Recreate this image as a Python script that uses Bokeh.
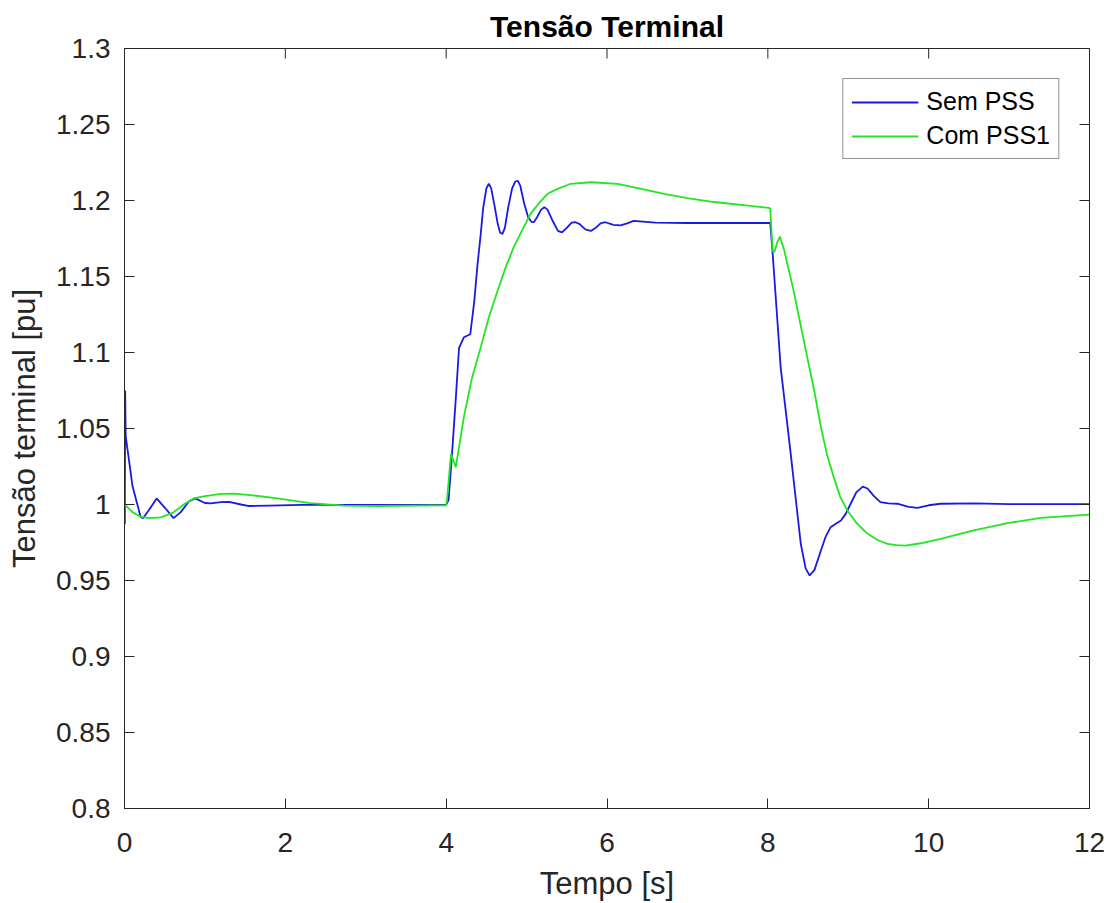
import math
from bokeh.plotting import figure
from bokeh.models import FixedTicker, Range1d, Legend, LegendItem
from bokeh.embed import file_html
from bokeh.resources import INLINE

# ---- data ----
t_sem = [0, 0.004, 0.008, 0.015, 0.1, 0.2, 0.23, 0.3, 0.4, 0.5, 0.61, 0.7, 0.8, 0.88, 1.0, 1.07,
         1.2, 1.3, 1.45, 1.55, 1.8, 2.2, 3.0, 4.0,
         4.03, 4.07, 4.12, 4.16, 4.22, 4.3, 4.35, 4.39, 4.43, 4.46, 4.5, 4.53, 4.56, 4.6, 4.64,
         4.67, 4.70, 4.73, 4.77, 4.82, 4.86, 4.89, 4.92, 4.97, 5.02, 5.06, 5.09, 5.13, 5.18, 5.22,
         5.26, 5.33, 5.39, 5.44, 5.5, 5.56, 5.61, 5.66, 5.73, 5.80, 5.86, 5.92, 5.98, 6.08,
         6.17, 6.25, 6.33, 6.6, 7.0, 7.5, 8.03,
         8.06, 8.16, 8.28, 8.41, 8.47, 8.52, 8.58, 8.66, 8.72, 8.78, 8.85, 8.91, 8.97, 9.03, 9.1,
         9.18, 9.24, 9.32, 9.4, 9.5, 9.61, 9.75, 9.86, 10.0, 10.15, 10.57, 11.0, 12.0]
v_sem = [1.0, 0.987, 1.075, 1.045, 1.012, 0.992, 0.991, 0.996, 1.004, 0.998, 0.991, 0.995, 1.002,
         1.004, 1.001, 1.0007, 1.0015, 1.0017, 1.0, 0.999, 0.9993, 0.9997, 0.9997, 0.9997,
         1.003, 1.031, 1.07, 1.103, 1.110, 1.112, 1.134, 1.158, 1.178, 1.195, 1.208, 1.211, 1.208,
         1.197, 1.185, 1.179, 1.178, 1.182, 1.195, 1.208, 1.2125, 1.213, 1.21, 1.198, 1.189,
         1.186, 1.1857, 1.189, 1.194, 1.1956, 1.194, 1.186, 1.18, 1.179, 1.182, 1.1855, 1.1857,
         1.1845, 1.181, 1.180, 1.182, 1.185, 1.1857, 1.184, 1.1836, 1.185, 1.1866, 1.1855, 1.1852,
         1.1852, 1.1852,
         1.165, 1.09, 1.0355, 0.974, 0.958, 0.9533, 0.957, 0.9697, 0.979, 0.985, 0.9875, 0.9895,
         0.994, 1.0005, 1.008, 1.0118, 1.0105, 1.0055, 1.0016, 1.0008, 1.0005, 0.9985, 0.9978,
         0.9995, 1.0005, 1.0008, 1.0003, 1.0003]

t_com = [0, 0.1, 0.2, 0.3, 0.45, 0.6, 0.75, 0.86, 1.0, 1.2, 1.36, 1.6, 1.9, 2.31, 2.73, 3.14,
         3.6, 4.0,
         4.01, 4.06, 4.12, 4.22, 4.32, 4.43, 4.53, 4.64, 4.74, 4.84, 4.95, 5.05, 5.15, 5.26, 5.4,
         5.55, 5.8, 6.13, 6.4, 6.71, 7.0, 7.33, 7.7, 8.01,
         8.03, 8.06, 8.08, 8.12, 8.15, 8.2, 8.32, 8.4, 8.49, 8.58, 8.66, 8.74, 8.82, 8.9, 8.99,
         9.1, 9.24, 9.37, 9.49, 9.6, 9.71, 9.9, 10.15, 10.56, 10.98, 11.39, 12.0]
v_com = [1.0, 0.995, 0.992, 0.991, 0.9915, 0.9945, 1.0005, 1.004, 1.0055, 1.007, 1.0072, 1.006,
         1.004, 1.0009, 0.9993, 0.999, 0.9993, 0.9995,
         1.0026, 1.0334, 1.0246, 1.0575, 1.083, 1.1035, 1.123, 1.1408, 1.156, 1.1693, 1.181,
         1.1912, 1.198, 1.2044, 1.208, 1.211, 1.212, 1.211, 1.208, 1.2044, 1.2015, 1.199, 1.197,
         1.1952,
         1.1945, 1.167, 1.166, 1.173, 1.1763, 1.168, 1.1408, 1.12, 1.097, 1.074, 1.051, 1.032,
         1.018, 1.005, 0.996, 0.988, 0.9807, 0.9765, 0.9741, 0.9733, 0.973, 0.9745, 0.9774,
         0.9829, 0.9877, 0.9912, 0.9934]

x_ticks = [0, 2, 4, 6, 8, 10, 12]
y_ticks = [0.8, 0.85, 0.9, 0.95, 1.0, 1.05, 1.1, 1.15, 1.2, 1.25, 1.3]
y_tick_labels = ["0.8", "0.85", "0.9", "0.95", "1", "1.05", "1.1", "1.15", "1.2", "1.25", "1.3"]
series_names = ["Sem PSS", "Com PSS1"]

FONT = "Liberation Sans"
AX = "#262626"

p = figure(width=1115, height=903, output_backend="svg", toolbar_location=None,
           x_range=Range1d(x_ticks[0], x_ticks[-1]), y_range=Range1d(y_ticks[0], y_ticks[-1]),
           min_border_left=124, min_border_right=26, min_border_top=48, min_border_bottom=95,
           title="Tensão Terminal")
p.title.align = "center"
p.title.text_font = FONT
p.title.text_font_size = "30px"
p.title.text_font_style = "bold"
p.title.text_color = "#000000"
p.title.standoff = 12

p.outline_line_color = AX
p.outline_line_width = 1
p.xgrid.visible = False
p.ygrid.visible = False
p.background_fill_color = "white"
p.border_fill_color = "white"

r1 = p.line(t_sem, v_sem, line_color="#1a1ae6", line_width=1.8)
r2 = p.line(t_com, v_com, line_color="#22e622", line_width=1.8)

# inward tick marks on the top and right edges of the box (half of each dash is clipped)
p.scatter(x=x_ticks, y=[y_ticks[-1]] * len(x_ticks), marker="dash", size=20,
          angle=math.pi / 2, line_color=AX, line_width=1)
p.scatter(x=[x_ticks[-1]] * len(y_ticks), y=y_ticks, marker="dash", size=20,
          line_color=AX, line_width=1)

def style_axis(ax, ticks):
    ax.ticker = FixedTicker(ticks=ticks)
    ax.minor_tick_line_color = None
    ax.major_tick_in = 10
    ax.major_tick_out = 0
    ax.major_tick_line_color = AX
    ax.axis_line_color = AX
    ax.major_label_text_color = AX
    ax.major_label_text_font = FONT
    ax.major_label_text_font_size = "28px"
    ax.axis_label_text_font = FONT
    ax.axis_label_text_font_size = "31px"
    ax.axis_label_text_font_style = "normal"
    ax.axis_label_text_color = AX

xa = p.xaxis[0]
style_axis(xa, x_ticks)
xa.axis_label = "Tempo [s]"
xa.major_label_standoff = 24
xa.axis_label_standoff = 11

ya = p.yaxis[0]
style_axis(ya, y_ticks)
ya.major_label_overrides = {v: s for v, s in zip(y_ticks, y_tick_labels)}
ya.axis_label = "Tensão terminal [pu]"
ya.major_label_standoff = 14
ya.axis_label_standoff = 11

legend = Legend(items=[LegendItem(label=series_names[0], renderers=[r1]),
                       LegendItem(label=series_names[1], renderers=[r2])],
                location="top_right")
legend.margin = 30
legend.padding = 8
legend.spacing = 5
legend.glyph_width = 67
legend.glyph_height = 26
legend.label_height = 26
legend.label_standoff = 8
legend.label_text_font = FONT
legend.label_text_font_size = "25px"
legend.label_text_color = "#000000"
legend.border_line_color = AX
legend.border_line_width = 1
legend.background_fill_color = "white"
legend.background_fill_alpha = 1.0
p.add_layout(legend)

open("out.html", "w").write(file_html(p, INLINE))
